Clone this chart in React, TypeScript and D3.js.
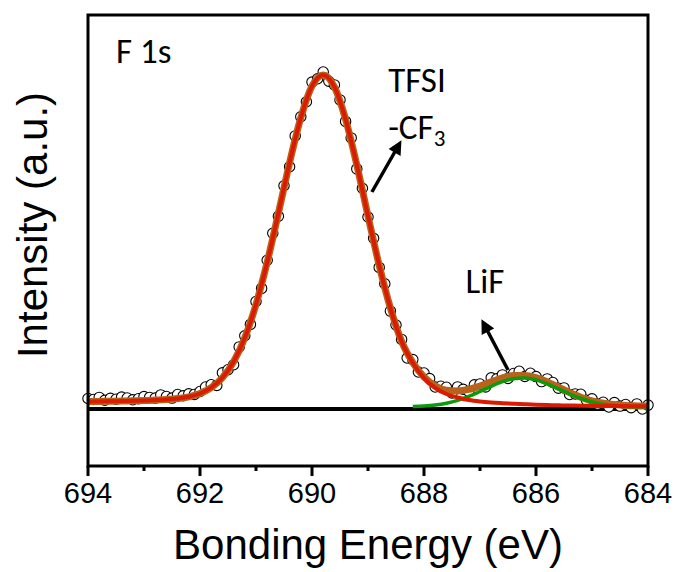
import React from 'react';
import * as d3 from 'd3';

const width = 675;
const height = 572;
const plot = { left: 88, right: 648, top: 15, bottom: 466 };

// x axis ticks (binding energy, eV)
const xTicks = [694, 692, 690, 688, 686, 684];
const xMinorTicks = [693, 691, 689, 687, 685];

// measured F 1s spectrum (open circles)
const dataEnergy = [
  694.0, 693.9, 693.8, 693.7, 693.6, 693.5, 693.4, 693.3, 693.2, 693.1,
  693.0, 692.9, 692.8, 692.7, 692.6, 692.5, 692.4, 692.3, 692.2, 692.1,
  692.0, 691.9, 691.8, 691.7, 691.6, 691.5, 691.4, 691.3, 691.2, 691.1,
  691.0, 690.9, 690.8, 690.7, 690.6, 690.5, 690.4, 690.3, 690.2, 690.1,
  690.0, 689.9, 689.8, 689.7, 689.6, 689.5, 689.4, 689.3, 689.2, 689.1,
  689.0, 688.9, 688.8, 688.7, 688.6, 688.5, 688.4, 688.3, 688.2, 688.1,
  688.0, 687.9, 687.8, 687.7, 687.6, 687.5, 687.4, 687.3, 687.2, 687.1,
  687.0, 686.9, 686.8, 686.7, 686.6, 686.5, 686.4, 686.3, 686.2, 686.1,
  686.0, 685.9, 685.8, 685.7, 685.6, 685.5, 685.4, 685.3, 685.2, 685.1,
  685.0, 684.9, 684.8, 684.7, 684.6, 684.5, 684.4, 684.3, 684.2, 684.1,
  684.0,
];
const dataIntensity = [
  10.5, 9.5, 11.6, 8.7, 10.7, 9.8, 11.9, 11, 9.2, 10.3,
  12.4, 11.6, 10.9, 14.1, 12.5, 10.9, 14.5, 13.2, 15.2, 14.6,
  17.5, 22, 24.3, 23.6, 36.2, 39.3, 44.2, 62.1, 73.2, 84.6,
  107.5, 120.6, 148.8, 175.7, 192.8, 223.3, 242.3, 273.1, 292.2, 307.3,
  326.9, 330.2, 337, 327.8, 324.1, 309.1, 287.6, 271.1, 240.1, 220.7,
  192, 170.7, 141.6, 125.2, 97.9, 84, 69.6, 51, 49.4, 37,
  36, 30.4, 22, 22.8, 21.8, 16.1, 22.1, 19.7, 17.6, 24.2,
  25, 22.1, 31.2, 30.2, 34.1, 30.6, 35.5, 37.8, 32.6, 35.8,
  32.4, 27.4, 30.1, 26.5, 20.8, 21.1, 14.5, 15, 14.8, 8.8,
  10.2, 4.9, 6.8, 2, 6.4, 2.9, 4.5, 1.3, 5.1, 0,
  3.9,
];

// fitted curves
const fitEnergy = [
  694.0, 693.8, 693.6, 693.4, 693.2, 693.0, 692.8, 692.6, 692.4, 692.2,
  692.0, 691.8, 691.6, 691.4, 691.2, 691.0, 690.8, 690.6, 690.4, 690.2,
  690.0, 689.8, 689.6, 689.4, 689.2, 689.0, 688.8, 688.6, 688.4, 688.2,
  688.0, 687.8, 687.6, 687.4, 687.2, 687.0, 686.8, 686.6, 686.4, 686.2,
  686.0, 685.8, 685.6, 685.4, 685.2, 685.0, 684.8, 684.6, 684.4, 684.2,
  684.0,
];
const envelopeFit = [
  7.5, 7.6, 7.7, 7.9, 8.2, 8.4, 8.9, 9.5, 10.5, 12.2,
  15.5, 21.3, 31.2, 47.2, 71.2, 104.5, 146.8, 195.8, 246.3, 291.2,
  322.9, 334, 322.1, 289.6, 244.1, 193.0, 143.6, 100.9, 67.6, 46.4,
  32.0, 23.0, 18.8, 18.1, 19.6, 23.0, 27.2, 31.1, 33.5, 33.6,
  31.4, 27.1, 21.8, 16.5, 11.8, 8.2, 5.8, 4.4, 3.5, 3.1,
  2.9,
];
const tfsiFit = [
  7.5, 7.6, 7.7, 7.9, 8.2, 8.4, 8.9, 9.5, 10.5, 12.2,
  15.5, 21.3, 31.2, 47.2, 71.2, 104.5, 146.8, 195.8, 246.3, 291.2,
  322.9, 334, 322.1, 289.6, 244.1, 193.0, 143.6, 100.9, 67.4, 46,
  31, 21, 15, 11.5, 9, 7.5, 6.5, 5.8, 5.2, 4.7,
  4.3, 4.0, 3.7, 3.5, 3.3, 3.1, 3.0, 3.0, 2.9, 2.8,
  2.8,
];
const lifEnergy = [
  688.2, 688.0, 687.8, 687.6, 687.4, 687.2, 687.0, 686.8, 686.6, 686.4,
  686.2, 686.0, 685.8, 685.6, 685.4, 685.2, 685.0, 684.8, 684.6, 684.4,
  684.2, 684.0,
];
const lifFit = [
  2.4, 3.0, 4.0, 5.8, 8.6, 12.6, 17.5, 22.7, 27.3, 30.3,
  30.9, 29.1, 25.1, 20.1, 15.0, 10.5, 7.1, 4.8, 3.4, 2.6,
  2.3, 2.1,
];

const annotations = [
  { text: 'F 1s', e: 693.5, v: 346 },
  { text: 'TFSI', e: 688.64, v: 317 },
  { text: 'LiF', e: 687.26, v: 116 },
];
const arrows = [
  { from: [688.93, 217], to: [688.44, 265] },
  { from: [686.5, 39], to: [686.94, 86] },
];

const App = () => {
  const x = d3.scaleLinear().domain([694, 684]).range([plot.left, plot.right]);
  const y = d3.scaleLinear().domain([-57, 394]).range([plot.bottom, plot.top]);

  const line = d3
    .line<[number, number]>()
    .x(d => x(d[0]))
    .y(d => y(d[1]))
    .curve(d3.curveMonotoneX);

  const envPath = line(fitEnergy.map((e, i) => [e, envelopeFit[i]]));
  const tfsiPath = line(fitEnergy.map((e, i) => [e, tfsiFit[i]]));
  const lifPath = line(lifEnergy.map((e, i) => [e, lifFit[i]]));

  const arial = '"Liberation Sans", Arial, sans-serif';
  const calibri = 'Carlito, Calibri, Lato, sans-serif';

  return (
    <svg width={width} height={height} style={{ display: 'block', position: 'absolute', left: 0, top: 0 }}>
      <defs>
        <marker id="head" viewBox="0 0 10 10" refX="7" refY="5" markerWidth="4.2" markerHeight="4" orient="auto">
          <path d="M0,0 L10,5 L0,10 Z" fill="#000" />
        </marker>
      </defs>
      <rect width={width} height={height} fill="#fff" />

      {/* zero line */}
      <line x1={plot.left} x2={plot.right} y1={y(0)} y2={y(0)} stroke="#000" strokeWidth={4} />

      {/* data points */}
      {dataEnergy.map((e, i) => (
        <circle key={i} cx={x(e)} cy={y(dataIntensity[i])} r={5.2} fill="#fff" stroke="#000" strokeWidth={1.1} />
      ))}

      {/* fits */}
      <path d={envPath || ''} fill="none" stroke="#b8621b" strokeWidth={7} />
      <path d={lifPath || ''} fill="none" stroke="#0a9a0a" strokeWidth={3.5} />
      <path d={tfsiPath || ''} fill="none" stroke="#dc1a00" strokeWidth={4} />

      {/* frame */}
      <rect x={plot.left} y={plot.top} width={plot.right - plot.left} height={plot.bottom - plot.top}
        fill="none" stroke="#000" strokeWidth={3} />

      {/* x ticks */}
      {xTicks.map(t => (
        <g key={t}>
          <line x1={x(t)} x2={x(t)} y1={plot.bottom} y2={plot.bottom + 10} stroke="#000" strokeWidth={3} />
          <text x={x(t)} y={503} textAnchor="middle" fontFamily={arial} fontSize={29} fill="#000">{t}</text>
        </g>
      ))}
      {xMinorTicks.map(t => (
        <line key={t} x1={x(t)} x2={x(t)} y1={plot.bottom} y2={plot.bottom + 5} stroke="#000" strokeWidth={3} />
      ))}

      {/* axis titles */}
      <text x={(plot.left + plot.right) / 2} y={559} textAnchor="middle" fontFamily={arial} fontSize={42} fill="#000">
        Bonding Energy (eV)
      </text>
      <text transform="translate(47,225) rotate(-90)" textAnchor="middle" fontFamily={arial} fontSize={42} fill="#000">
        Intensity (a.u.)
      </text>

      {/* annotations */}
      {annotations.map(a => (
        <text key={a.text} x={x(a.e)} y={y(a.v)} fontFamily={calibri} fontSize={35} fill="#000">{a.text}</text>
      ))}
      <text x={x(688.64)} y={y(270)} fontFamily={calibri} fontSize={35} fill="#000">
        -CF<tspan fontSize={23} dy={7}>3</tspan>
      </text>
      {arrows.map((a, i) => (
        <line key={i} x1={x(a.from[0])} y1={y(a.from[1])} x2={x(a.to[0])} y2={y(a.to[1])}
          stroke="#000" strokeWidth={3.5} markerEnd="url(#head)" />
      ))}
    </svg>
  );
};

export default App;
